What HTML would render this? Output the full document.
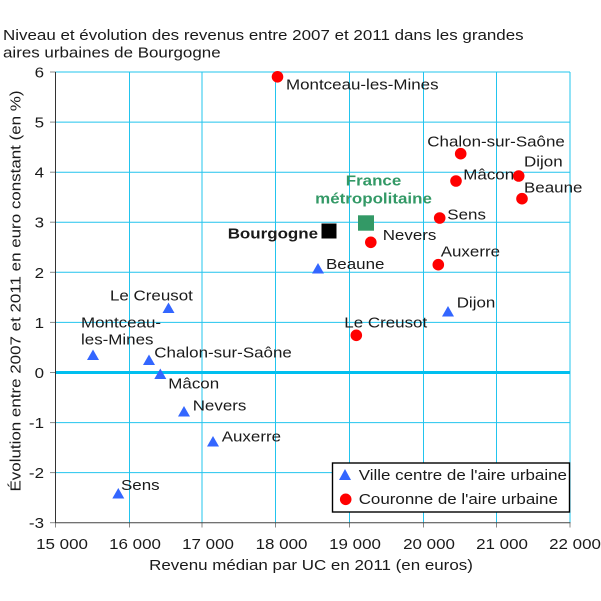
<!DOCTYPE html>
<html><head><meta charset="utf-8"><style>
html,body{margin:0;padding:0;background:#fff;}
svg{display:block;}
text{font-family:"Liberation Sans",Arial,sans-serif;font-size:15px;fill:#1a1a1a;}
.b{font-weight:bold;}
</style></head><body>
<svg width="601" height="601" viewBox="0 0 601 601" xmlns="http://www.w3.org/2000/svg">
<rect width="601" height="601" fill="#fff"/>
<!-- title -->
<text transform="translate(3,40) scale(1.13,1)">Niveau et évolution des revenus entre 2007 et 2011 dans les grandes</text>
<text transform="translate(3,57.5) scale(1.13,1)">aires urbaines de Bourgogne</text>

<!-- grid -->
<g stroke="#22c4ee" stroke-width="1">
<line x1="55.5" y1="72" x2="570" y2="72"/>
<line x1="55.5" y1="122.1" x2="570" y2="122.1"/>
<line x1="55.5" y1="172.2" x2="570" y2="172.2"/>
<line x1="55.5" y1="222.2" x2="570" y2="222.2"/>
<line x1="55.5" y1="272.3" x2="570" y2="272.3"/>
<line x1="55.5" y1="322.4" x2="570" y2="322.4"/>
<line x1="55.5" y1="422.6" x2="570" y2="422.6"/>
<line x1="55.5" y1="472.6" x2="570" y2="472.6"/>
<line x1="129.5" y1="72" x2="129.5" y2="522.7"/>
<line x1="202" y1="72" x2="202" y2="522.7"/>
<line x1="275.5" y1="72" x2="275.5" y2="522.7"/>
<line x1="349.5" y1="72" x2="349.5" y2="522.7"/>
<line x1="423.5" y1="72" x2="423.5" y2="522.7"/>
<line x1="496.5" y1="72" x2="496.5" y2="522.7"/>
<line x1="570" y1="72" x2="570" y2="522.7"/>
</g>
<line x1="55.5" y1="372.5" x2="570" y2="372.5" stroke="#00bfef" stroke-width="3"/>

<!-- ticks -->
<g stroke="#888" stroke-width="1">
<line x1="50" y1="72" x2="55.5" y2="72"/>
<line x1="50" y1="122.1" x2="55.5" y2="122.1"/>
<line x1="50" y1="172.2" x2="55.5" y2="172.2"/>
<line x1="50" y1="222.2" x2="55.5" y2="222.2"/>
<line x1="50" y1="272.3" x2="55.5" y2="272.3"/>
<line x1="50" y1="322.4" x2="55.5" y2="322.4"/>
<line x1="50" y1="372.5" x2="55.5" y2="372.5"/>
<line x1="50" y1="422.6" x2="55.5" y2="422.6"/>
<line x1="50" y1="472.6" x2="55.5" y2="472.6"/>
<line x1="50" y1="522.7" x2="55.5" y2="522.7"/>
<line x1="55.5" y1="522.7" x2="55.5" y2="527.5"/>
<line x1="129.5" y1="522.7" x2="129.5" y2="527.5"/>
<line x1="202" y1="522.7" x2="202" y2="527.5"/>
<line x1="275.5" y1="522.7" x2="275.5" y2="527.5"/>
<line x1="349.5" y1="522.7" x2="349.5" y2="527.5"/>
<line x1="423.5" y1="522.7" x2="423.5" y2="527.5"/>
<line x1="496.5" y1="522.7" x2="496.5" y2="527.5"/>
<line x1="570" y1="522.7" x2="570" y2="527.5"/>
</g>
<!-- axes -->
<line x1="55.5" y1="72" x2="55.5" y2="523" stroke="#333" stroke-width="1"/>
<line x1="55.5" y1="522.7" x2="570.5" y2="522.7" stroke="#444" stroke-width="1"/>

<!-- y tick labels -->
<g text-anchor="end">
<text transform="translate(44,77.5) scale(1.13,1)">6</text>
<text transform="translate(44,127.6) scale(1.13,1)">5</text>
<text transform="translate(44,177.7) scale(1.13,1)">4</text>
<text transform="translate(44,227.7) scale(1.13,1)">3</text>
<text transform="translate(44,277.8) scale(1.13,1)">2</text>
<text transform="translate(44,327.9) scale(1.13,1)">1</text>
<text transform="translate(44,378) scale(1.13,1)">0</text>
<text transform="translate(44,428.1) scale(1.13,1)">-1</text>
<text transform="translate(44,478.1) scale(1.13,1)">-2</text>
<text transform="translate(44,528.2) scale(1.13,1)">-3</text>
</g>
<!-- x tick labels -->
<g text-anchor="middle">
<text transform="translate(62,549) scale(1.13,1)">15 000</text>
<text transform="translate(135,549) scale(1.13,1)">16 000</text>
<text transform="translate(208,549) scale(1.13,1)">17 000</text>
<text transform="translate(281.5,549) scale(1.13,1)">18 000</text>
<text transform="translate(355,549) scale(1.13,1)">19 000</text>
<text transform="translate(429,549) scale(1.13,1)">20 000</text>
<text transform="translate(502,549) scale(1.13,1)">21 000</text>
<text transform="translate(575,549) scale(1.13,1)">22 000</text>
</g>
<text text-anchor="middle" transform="translate(311,570) scale(1.13,1)">Revenu médian par UC en 2011 (en euros)</text>
<text text-anchor="middle" transform="translate(20.5,291) rotate(-90) scale(1.13,1)">Évolution entre 2007 et 2011 en euro constant (en %)</text>

<!-- triangles (ville centre) -->
<g fill="#3366ff">
<polygon points="168.5,302.5 174.5,313 162.5,313"/>
<polygon points="93,349.5 99,360 87,360"/>
<polygon points="149,354.5 155,365 143,365"/>
<polygon points="160.3,368.5 166.3,379 154.3,379"/>
<polygon points="184,406 190,416.5 178,416.5"/>
<polygon points="213,436 219,446.5 207,446.5"/>
<polygon points="318,263 324,273.5 312,273.5"/>
<polygon points="448,306 454,316.5 442,316.5"/>
<polygon points="118.3,488 124.3,498.5 112.3,498.5"/>
</g>
<!-- circles (couronne) -->
<g fill="#ff0000">
<circle cx="277.5" cy="76.8" r="5.8"/>
<circle cx="370.8" cy="242.3" r="5.8"/>
<circle cx="460.7" cy="153.7" r="5.8"/>
<circle cx="456" cy="181" r="5.8"/>
<circle cx="518.7" cy="176" r="5.8"/>
<circle cx="522" cy="198.7" r="5.8"/>
<circle cx="439.7" cy="218" r="5.8"/>
<circle cx="438.3" cy="264.7" r="5.8"/>
<circle cx="356.3" cy="335.3" r="5.8"/>
</g>
<!-- squares -->
<rect x="321.5" y="223.5" width="15" height="15" fill="#000"/>
<rect x="358" y="215.3" width="16" height="15.4" fill="#339966"/>

<!-- labels ville centre -->
<text transform="translate(110,300.5) scale(1.13,1)">Le Creusot</text>
<text transform="translate(81,327.5) scale(1.13,1)">Montceau-</text>
<text transform="translate(81,344.5) scale(1.13,1)">les-Mines</text>
<text transform="translate(154.3,357.3) scale(1.13,1)">Chalon-sur-Saône</text>
<text transform="translate(168.3,388.3) scale(1.13,1)">Mâcon</text>
<text transform="translate(192.7,410.7) scale(1.13,1)">Nevers</text>
<text transform="translate(221.7,441.3) scale(1.13,1)">Auxerre</text>
<text transform="translate(326,269) scale(1.13,1)">Beaune</text>
<text transform="translate(456.7,307.7) scale(1.13,1)">Dijon</text>
<text transform="translate(121,490) scale(1.13,1)">Sens</text>
<!-- labels couronne -->
<text transform="translate(286,89.3) scale(1.13,1)">Montceau-les-Mines</text>
<text transform="translate(382.7,240) scale(1.13,1)">Nevers</text>
<text transform="translate(427.3,146.7) scale(1.13,1)">Chalon-sur-Saône</text>
<text transform="translate(463.3,179.3) scale(1.13,1)">Mâcon</text>
<text transform="translate(524,166.7) scale(1.13,1)">Dijon</text>
<text transform="translate(524,192.3) scale(1.13,1)">Beaune</text>
<text transform="translate(447.3,219.3) scale(1.13,1)">Sens</text>
<text transform="translate(440.7,256.7) scale(1.13,1)">Auxerre</text>
<text transform="translate(344.3,327.3) scale(1.13,1)">Le Creusot</text>
<!-- special -->
<text class="b" transform="translate(227.7,238.3) scale(1.13,1)">Bourgogne</text>
<text class="b" text-anchor="middle" style="fill:#339966" transform="translate(373.5,185.3) scale(1.13,1)">France</text>
<text class="b" text-anchor="middle" style="fill:#339966" transform="translate(373.5,203.3) scale(1.13,1)">métropolitaine</text>

<!-- legend -->
<rect x="332.5" y="463" width="237" height="49" fill="#fff" stroke="#000" stroke-width="1.4"/>
<polygon points="345,469 351,480 339,480" fill="#3366ff"/>
<circle cx="345.7" cy="499.3" r="5.8" fill="#ff0000"/>
<text transform="translate(358.7,480) scale(1.13,1)">Ville centre de l'aire urbaine</text>
<text transform="translate(358.7,504) scale(1.13,1)">Couronne de l'aire urbaine</text>
</svg>
</body></html>
